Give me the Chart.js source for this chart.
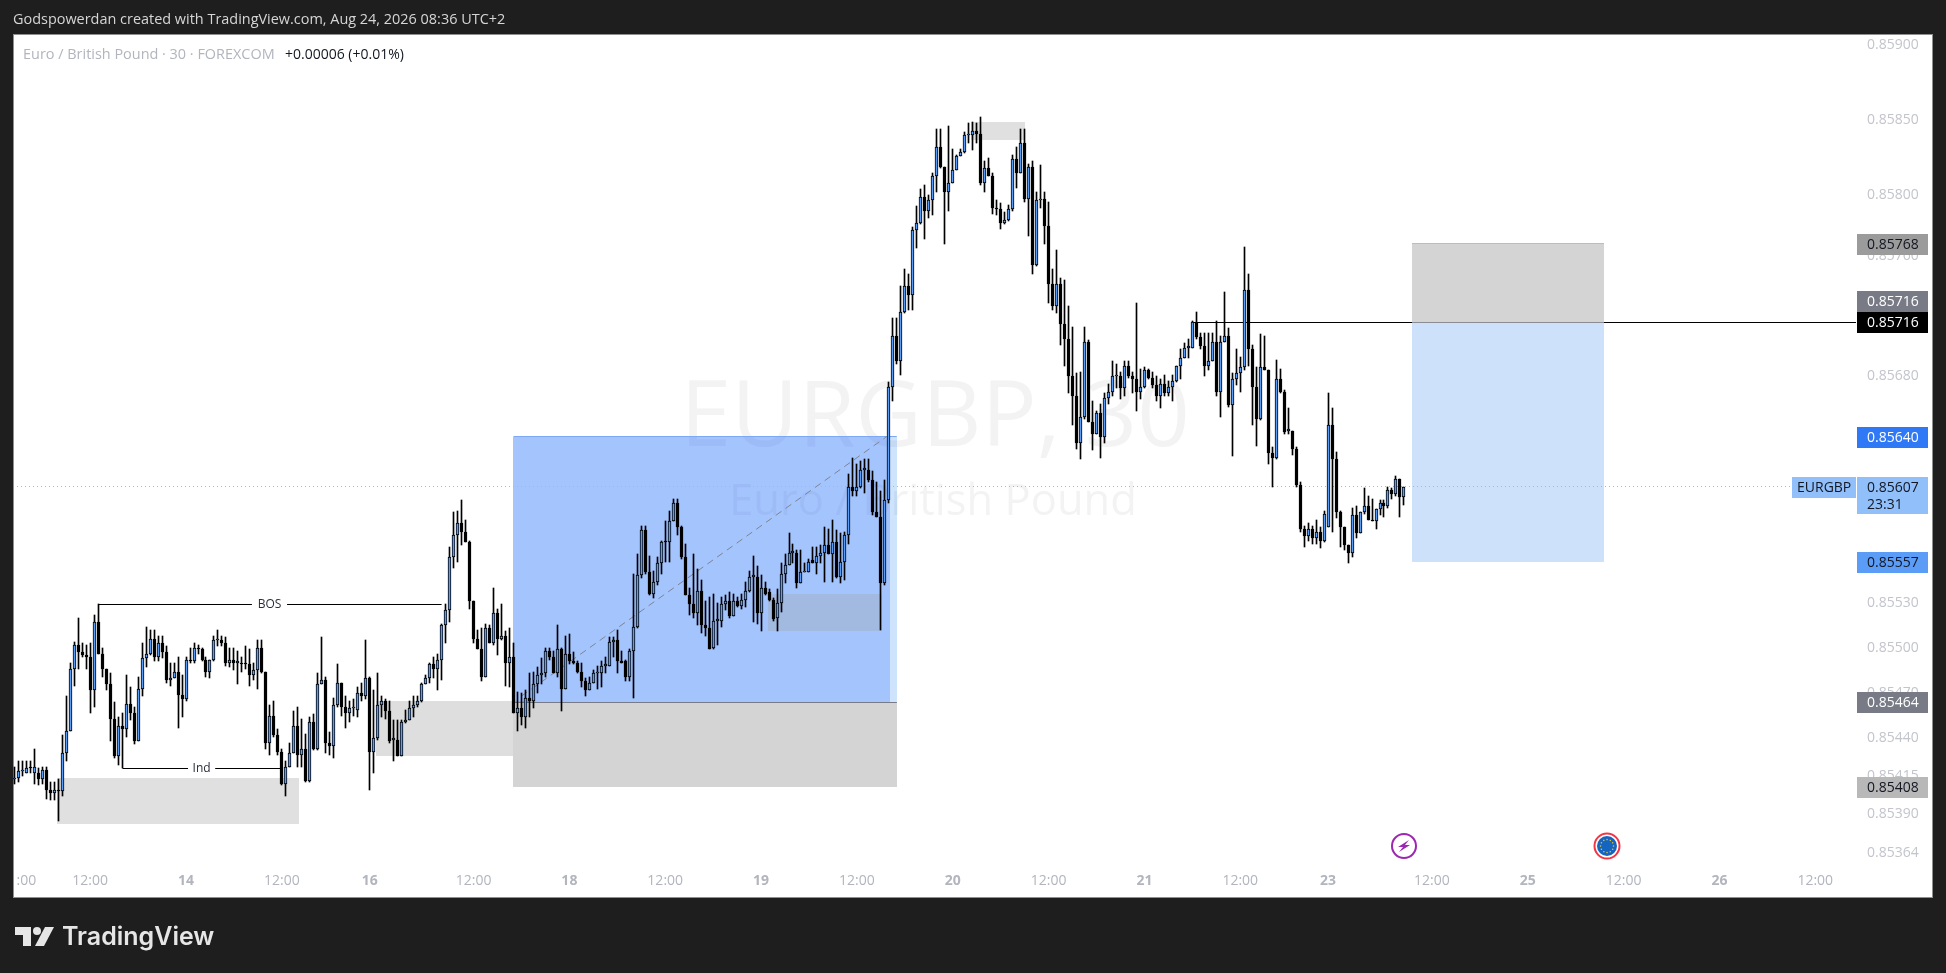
<!DOCTYPE html>
<html>
<head>
<meta charset="utf-8">
<title>EURGBP, 30</title>
<script src="https://cdn.jsdelivr.net/npm/chart.js@4/dist/chart.umd.js"></script>
<style>
  html, body { margin: 0; background: #1e1e1e; }
  canvas { display: block; }
</style>
</head>
<body>
<canvas id="chart" width="1946" height="973"></canvas>
<script>
// prices are kept in points, 85413 means 0.85413
const opens = [
  85413,85414,85418,85417,85421,85417,85417,85413,85419,85406,
  85404,85406,85405,85430,85445,85486,85502,85497,85495,85494,
  85472,85517,85496,85486,85476,85453,85428,85448,85446,85463,
  85457,85438,85473,85493,85496,85506,85494,85503,85497,85479,
  85480,85484,85469,85466,85492,85491,85500,85499,85492,85484,
  85492,85505,85505,85503,85490,85492,85490,85490,85490,85489,
  85482,85485,85500,85484,85437,85455,85442,85431,85410,85421,
  85430,85448,85429,85433,85412,85451,85433,85476,85479,85437,
  85435,85462,85477,85461,85457,85460,85459,85470,85468,85480,
  85431,85440,85462,85465,85458,85439,85439,85428,85451,85452,
  85460,85462,85465,85476,85480,85489,85486,85492,85515,85525,
  85560,85575,85583,85577,85570,85531,85506,85499,85481,85513,
  85503,85523,85506,85508,85490,85494,85457,85460,85454,85467,
  85465,85476,85482,85483,85498,85494,85483,85499,85473,85496,
  85491,85490,85484,85478,85472,85477,85483,85483,85488,85488,
  85504,85505,85491,85491,85481,85498,85514,85548,85578,85550,
  85536,85544,85556,85571,85570,85584,85596,85580,85560,85535,
  85529,85523,85538,85515,85513,85500,85518,85518,85529,85531,
  85521,85531,85528,85532,85538,85547,85547,85523,85540,85537,
  85532,85520,85530,85549,85555,85563,85563,85543,85550,85550,
  85558,85556,85561,85563,85568,85562,85570,85547,85557,85575,
  85607,85604,85607,85618,85618,85611,85590,85587,85543,85598,
  85673,85707,85690,85723,85740,85734,85777,85782,85799,85790,
  85797,85813,85832,85819,85802,85808,85817,85826,85829,85840,
  85840,85843,85841,85808,85818,85813,85792,85791,85782,85784,
  85791,85824,85815,85835,85798,85819,85754,85797,85798,85780,
  85741,85727,85741,85715,85705,85680,85667,85636,85653,85703,
  85650,85642,85656,85640,85666,85670,85680,85680,85672,85687,
  85680,85678,85670,85673,85684,85679,85674,85667,85675,85669,
  85673,85677,85687,85692,85699,85699,85716,85706,85700,85687,
  85690,85703,85670,85703,85707,85661,85678,85682,85686,85737,
  85698,85673,85652,85686,85684,85629,85626,85678,85670,85644,
  85644,85632,85608,85579,85574,85579,85573,85577,85571,85580,
  85648,85625,85590,85580,85568,85563,85588,85576,85590,85594,
  85585,85584,85592,85596,85594,85605,85602,85612,85600
];
const highs = [
  85421,85425,85425,85425,85425,85433,85420,85421,85421,85411,
  85411,85413,85442,85468,85490,85504,85520,85503,85502,85503,
  85522,85529,85500,85486,85483,85464,85454,85457,85482,85474,
  85461,85481,85503,85514,85512,85512,85508,85508,85501,85490,
  85490,85494,85482,85494,85500,85503,85502,85500,85494,85492,
  85508,85512,85508,85507,85500,85500,85498,85494,85501,85499,
  85490,85505,85505,85484,85462,85465,85446,85433,85425,85437,
  85458,85461,85453,85443,85454,85456,85483,85507,85481,85444,
  85467,85489,85477,85468,85465,85466,85474,85477,85505,85481,
  85472,85483,85468,85466,85465,85452,85452,85452,85459,85465,
  85468,85468,85477,85482,85490,85494,85496,85516,85529,85567,
  85590,85591,85598,85585,85571,85531,85512,85513,85516,85515,
  85540,85526,85529,85511,85513,85503,85471,85470,85472,85483,
  85484,85487,85493,85500,85500,85498,85515,85500,85508,85509,
  85497,85491,85490,85480,85481,85485,85488,85491,85494,85507,
  85507,85512,85498,85492,85499,85549,85562,85581,85581,85561,
  85551,85560,85571,85584,85591,85599,85599,85581,85569,85540,
  85562,85552,85545,85531,85534,85536,85530,85534,85535,85537,
  85536,85534,85536,85544,85551,85561,85554,85548,85544,85539,
  85533,85539,85556,85562,85576,85569,85565,85565,85556,85559,
  85567,85567,85568,85580,85579,85585,85578,85576,85577,85615,
  85626,85622,85624,85625,85625,85617,85610,85604,85611,85676,
  85719,85719,85740,85751,85748,85779,85793,85804,85807,85800,
  85815,85844,85844,85819,85846,85831,85827,85831,85842,85848,
  85849,85848,85852,85823,85825,85815,85797,85795,85789,85794,
  85827,85832,85844,85844,85821,85823,85802,85820,85802,85796,
  85751,85764,85745,85744,85727,85713,85682,85683,85713,85704,
  85664,85657,85662,85669,85675,85690,85688,85683,85690,85690,
  85683,85729,85685,85686,85685,85683,85680,85678,85681,85677,
  85681,85687,85698,85702,85705,85717,85723,85709,85709,85709,
  85709,85717,85707,85736,85712,85682,85698,85693,85766,85748,
  85701,85686,85708,85707,85684,85633,85691,85685,85671,85659,
  85644,85633,85610,85581,85583,85581,85585,85580,85591,85669,
  85659,85630,85591,85580,85568,85593,85594,85590,85606,85601,
  85599,85592,85598,85598,85607,85606,85614,85612,85607
];
const lows = [
  85410,85411,85415,85417,85417,85410,85409,85410,85400,85399,
  85399,85385,85402,85425,85445,85475,85486,85494,85486,85457,
  85461,85496,85481,85472,85438,85427,85422,85420,85441,85452,
  85436,85438,85468,85487,85495,85491,85491,85493,85477,85475,
  85480,85447,85454,85465,85490,85490,85496,85491,85481,85480,
  85491,85501,85501,85488,85487,85485,85476,85484,85486,85475,
  85479,85473,85483,85433,85429,85441,85429,85409,85402,85421,
  85430,85421,85421,85411,85411,85432,85432,85476,85430,85429,
  85427,85461,85455,85447,85451,85455,85454,85465,85466,85406,
  85417,85439,85454,85453,85437,85425,85428,85428,85450,85452,
  85454,85461,85464,85476,85477,85480,85472,85479,85503,85517,
  85553,85557,85568,85570,85526,85503,85499,85478,85481,85503,
  85502,85495,85505,85475,85474,85457,85445,85449,85447,85454,
  85460,85470,85476,85481,85492,85483,85481,85458,85473,85489,
  85489,85483,85474,85468,85472,85477,85473,85474,85483,85488,
  85494,85483,85490,85478,85478,85467,85513,85546,85549,85535,
  85533,85542,85549,85557,85557,85584,85575,85559,85535,85522,
  85520,85515,85510,85508,85499,85499,85502,85514,85525,85520,
  85521,85527,85526,85527,85537,85517,85516,85511,85535,85531,
  85518,85511,85524,85543,85555,85556,85540,85543,85550,85550,
  85556,85549,85556,85544,85562,85544,85546,85543,85545,85569,
  85601,85601,85606,85603,85610,85588,85587,85512,85542,85596,
  85664,85688,85681,85722,85724,85724,85765,85781,85771,85785,
  85787,85802,85818,85768,85790,85808,85817,85826,85828,85835,
  85830,85835,85807,85802,85813,85788,85787,85778,85781,85783,
  85790,85805,85815,85796,85773,85748,85753,85792,85768,85729,
  85724,85722,85701,85687,85669,85648,85632,85625,85652,85650,
  85631,85642,85626,85636,85662,85667,85672,85665,85667,85679,
  85669,85657,85665,85672,85678,85672,85664,85659,85667,85667,
  85664,85676,85678,85692,85692,85699,85705,85698,85680,85684,
  85690,85667,85653,85703,85660,85627,85674,85670,85684,85687,
  85648,85634,85651,85684,85622,85607,85625,85669,85642,85642,
  85628,85607,85577,85567,85571,85569,85569,85566,85570,85580,
  85577,85586,85567,85565,85556,85560,85573,85576,85589,85585,
  85584,85579,85588,85587,85593,85599,85601,85587,85595
];
const closes = [
  85414,85418,85419,85420,85420,85421,85413,85419,85406,85404,
  85406,85405,85430,85445,85486,85502,85497,85495,85494,85472,
  85517,85496,85486,85476,85453,85428,85448,85446,85463,85457,
  85438,85473,85493,85496,85506,85494,85503,85497,85479,85480,
  85484,85469,85466,85492,85491,85500,85499,85492,85484,85492,
  85505,85506,85503,85490,85492,85490,85491,85489,85489,85482,
  85485,85500,85484,85437,85455,85442,85431,85410,85421,85430,
  85448,85429,85433,85412,85451,85433,85476,85479,85437,85435,
  85462,85477,85461,85457,85460,85461,85470,85468,85480,85431,
  85440,85462,85465,85458,85438,85440,85428,85451,85452,85460,
  85462,85465,85476,85480,85489,85486,85492,85515,85525,85560,
  85575,85583,85577,85570,85531,85506,85499,85481,85513,85503,
  85523,85506,85508,85490,85494,85457,85460,85454,85467,85465,
  85476,85482,85483,85498,85494,85483,85499,85473,85496,85491,
  85490,85484,85478,85472,85477,85483,85484,85488,85489,85504,
  85505,85491,85490,85481,85498,85514,85548,85578,85550,85536,
  85544,85556,85570,85570,85584,85596,85580,85560,85535,85529,
  85523,85538,85515,85513,85499,85518,85519,85529,85531,85521,
  85531,85528,85532,85538,85547,85548,85523,85540,85536,85532,
  85519,85530,85549,85555,85563,85564,85543,85550,85551,85557,
  85556,85561,85563,85568,85562,85570,85547,85557,85575,85607,
  85604,85607,85618,85619,85611,85590,85587,85543,85598,85673,
  85707,85690,85723,85740,85734,85777,85782,85799,85790,85797,
  85813,85832,85819,85802,85808,85817,85826,85829,85840,85841,
  85843,85841,85808,85818,85813,85792,85791,85782,85784,85791,
  85824,85815,85835,85798,85819,85754,85797,85798,85780,85741,
  85727,85741,85715,85705,85680,85667,85636,85653,85703,85650,
  85642,85656,85640,85666,85670,85680,85681,85672,85687,85680,
  85678,85670,85673,85684,85679,85674,85667,85675,85669,85673,
  85677,85687,85692,85699,85700,85716,85706,85700,85687,85690,
  85703,85670,85703,85707,85661,85678,85682,85686,85737,85698,
  85673,85652,85686,85684,85629,85626,85678,85670,85643,85645,
  85632,85608,85579,85574,85579,85573,85577,85571,85589,85648,
  85625,85590,85580,85568,85563,85588,85576,85590,85594,85585,
  85584,85592,85596,85594,85605,85602,85612,85600,85607
];

const priceTicks = [85900,85850,85800,85760,85680,85530,85500,85470,85440,85415,85390,85364];
const timeTickBars = [3,19,43,67,89,115,139,163,187,211,235,259,283,307,329,355,379,403,427,451];
const timeTickLabels = [':00','12:00','14','12:00','16','12:00','18','12:00','19','12:00','20','12:00','21','12:00','23','12:00','25','12:00','26','12:00'];

// drawn boxes, in bars and points
const boxFrom =   [ 10.7,  90.6, 125,   125,   125,   188.8, 239.6, 350,   350];
const boxTo =     [ 71.3, 129.2, 221,   219.3, 221,   217.3, 253.1, 398.1, 398.1];
const boxTop =    [85414, 85465, 85640, 85640, 85464, 85536, 85849, 85768, 85716];
const boxBottom = [85383, 85428, 85464, 85464, 85408, 85511, 85837, 85716, 85557];

const currentPrice = 85607;
const tagPrices = [85768, 85716, 85716, 85640, 85607, 85557, 85464, 85408];
const tagLabels = ['0.85768','0.85716','0.85716','0.85640','0.85607','0.85557','0.85464','0.85408'];

const FONT = '"Open Sans", sans-serif';

function snap(v) { return Math.floor(v) + 0.5; }

function hline(ctx, chart, from, to, price, color) {
  const x = chart.scales.x, y = chart.scales.y;
  ctx.strokeStyle = color;
  ctx.lineWidth = 1;
  ctx.beginPath();
  ctx.moveTo(x.getPixelForValue(from), snap(y.getPixelForValue(price)));
  ctx.lineTo(x.getPixelForValue(to), snap(y.getPixelForValue(price)));
  ctx.stroke();
}

function drawLogo(ctx) {
  ctx.fillStyle = '#e6e6e6';
  ctx.beginPath();
  ctx.moveTo(15, 927); ctx.lineTo(31, 927); ctx.lineTo(31, 946); ctx.lineTo(23, 946);
  ctx.lineTo(23, 935); ctx.lineTo(15, 935); ctx.closePath(); ctx.fill();
  ctx.beginPath(); ctx.arc(37, 931, 4, 0, Math.PI * 2); ctx.fill();
  ctx.beginPath();
  ctx.moveTo(45, 927); ctx.lineTo(54, 927); ctx.lineTo(44, 946); ctx.lineTo(35, 946);
  ctx.closePath(); ctx.fill();
  ctx.font = '600 25px Inter, sans-serif';
  ctx.textAlign = 'left';
  ctx.textBaseline = 'alphabetic';
  ctx.fillText('TradingView', 62, 945);
}

function drawIcons(ctx) {
  // lightning mark
  ctx.strokeStyle = '#9c27b0';
  ctx.lineWidth = 2;
  ctx.beginPath(); ctx.arc(1404, 846, 12, 0, Math.PI * 2); ctx.stroke();
  ctx.fillStyle = '#9c27b0';
  ctx.beginPath();
  ctx.moveTo(1409, 840); ctx.lineTo(1398, 847); ctx.lineTo(1403, 847); ctx.lineTo(1399, 852);
  ctx.lineTo(1410, 845); ctx.lineTo(1405, 845); ctx.closePath(); ctx.fill();
  // EU flag mark
  ctx.strokeStyle = '#f23645';
  ctx.beginPath(); ctx.arc(1607, 846, 12.5, 0, Math.PI * 2); ctx.stroke();
  ctx.fillStyle = '#1565c0';
  ctx.beginPath(); ctx.arc(1607, 846, 10, 0, Math.PI * 2); ctx.fill();
  ctx.fillStyle = '#e0c53a';
  for (let k = 0; k < 12; k++) {
    const a = k * Math.PI / 6;
    ctx.fillRect(1607 + Math.cos(a) * 6.5 - 0.6, 846 + Math.sin(a) * 6.5 - 0.6, 1.3, 1.3);
  }
}

const drawings = {
  id: 'drawings',
  beforeDraw(chart) {
    const ctx = chart.ctx;
    ctx.save();
    ctx.fillStyle = '#1e1e1e';
    ctx.fillRect(0, 0, 1946, 973);
    ctx.fillStyle = '#ffffff';
    ctx.fillRect(13, 34, 1919, 863);
    ctx.strokeStyle = '#8f8f8f';
    ctx.lineWidth = 1;
    ctx.strokeRect(13.5, 34.5, 1919, 863);
    ctx.restore();
  },
  // candles get rounded to whole pixels so they stay sharp
  afterDatasetsUpdate(chart) {
    chart.getSortedVisibleDatasetMetas().forEach(meta => {
      meta.data.forEach(bar => {
        bar.x = snap(bar.x);
        const top = Math.round(bar.y);
        let base = Math.round(bar.base);
        if (base === top) base = top + 1;
        bar.y = top;
        bar.base = base;
      });
    });
  },
  beforeDatasetsDraw(chart) {
    const ctx = chart.ctx, x = chart.scales.x, y = chart.scales.y;
    const area = chart.chartArea;
    ctx.save();
    ctx.beginPath();
    ctx.rect(area.left + 1, area.top + 1, area.width - 1, area.height - 1);
    ctx.clip();

    // watermark
    ctx.fillStyle = 'rgba(120,123,134,0.09)';
    ctx.textAlign = 'center';
    ctx.textBaseline = 'middle';
    ctx.font = '92px ' + FONT;
    ctx.fillText('EURGBP, 30', 935, 420);
    ctx.font = '43.5px ' + FONT;
    ctx.fillText('Euro / British Pound', 933, 503);

    // level line, hidden behind the right position box
    hline(ctx, chart, 295, 461.2, 85716, '#000000');

    const fills = [
      'rgba(0,0,0,0.12)', 'rgba(0,0,0,0.13)', 'rgba(33,130,245,0.22)', 'rgba(41,98,255,0.25)',
      'rgb(212,212,212)', 'rgba(160,160,160,0.3)', 'rgba(0,0,0,0.12)',
      'rgb(212,212,212)', 'rgb(205,225,250)'
    ];
    boxFrom.forEach((from, k) => {
      const left = Math.round(x.getPixelForValue(from));
      const right = Math.round(x.getPixelForValue(boxTo[k]));
      const top = Math.round(y.getPixelForValue(boxTop[k]));
      const bottom = Math.round(y.getPixelForValue(boxBottom[k]));
      ctx.fillStyle = fills[k];
      ctx.fillRect(left, top, right - left, bottom - top);
    });

    // position borders
    hline(ctx, chart, 125, 221, 85464, '#787b86');
    hline(ctx, chart, 125, 221, 85640, '#7da8f5');
    hline(ctx, chart, 350, 398.1, 85716, '#8a8d96');
    hline(ctx, chart, 350, 398.1, 85768, '#bdbdbd');

    // dashed path inside the left position
    ctx.strokeStyle = '#7f8490';
    ctx.lineWidth = 1;
    ctx.setLineDash([7, 5]);
    ctx.beginPath();
    ctx.moveTo(x.getPixelForValue(127), y.getPixelForValue(85468));
    ctx.lineTo(x.getPixelForValue(218.4), y.getPixelForValue(85640));
    ctx.stroke();
    ctx.setLineDash([]);

    // BOS and Ind labels
    hline(ctx, chart, 21, 59.5, 85529, '#000000');
    hline(ctx, chart, 68.3, 107, 85529, '#000000');
    hline(ctx, chart, 27.1, 43.5, 85420, '#000000');
    hline(ctx, chart, 50.3, 67, 85420, '#000000');
    ctx.fillStyle = '#2a2e39';
    ctx.font = '12px ' + FONT;
    ctx.fillText('BOS', x.getPixelForValue(63.9), y.getPixelForValue(85529));
    ctx.fillText('Ind', x.getPixelForValue(46.9), y.getPixelForValue(85420));

    // current price
    ctx.strokeStyle = '#9ab8e8';
    ctx.setLineDash([1, 3]);
    ctx.beginPath();
    ctx.moveTo(area.left, snap(y.getPixelForValue(currentPrice)));
    ctx.lineTo(1792, snap(y.getPixelForValue(currentPrice)));
    ctx.stroke();
    ctx.restore();
  },
  afterDraw(chart) {
    const ctx = chart.ctx, y = chart.scales.y;
    ctx.save();

    // price tags
    const tagFill = ['#9b9b9b','#787b86','#000000','#2f79f6','#90bff9','#5b9cf6','#787b86','#b8b8b8'];
    const tagText = ['#131722','#ffffff','#ffffff','#ffffff','#131722','#131722','#ffffff','#131722'];
    const tagShift = [0, -21, 0, 0, 0, 0, 0, 0];
    ctx.font = '14px ' + FONT;
    ctx.textBaseline = 'middle';
    ctx.textAlign = 'left';
    tagPrices.forEach((p, k) => {
      const cy = Math.round(y.getPixelForValue(p)) + tagShift[k];
      ctx.fillStyle = tagFill[k];
      ctx.fillRect(1857, cy - 10, 71, k === 4 ? 37 : 21);
      ctx.fillStyle = tagText[k];
      ctx.fillText(tagLabels[k], 1867, cy + 1);
      if (k === 4) ctx.fillText('23:31', 1867, cy + 18);
    });
    const cy = Math.round(y.getPixelForValue(currentPrice));
    ctx.fillStyle = '#90bff9';
    ctx.fillRect(1792, cy - 10, 64, 21);
    ctx.fillStyle = '#131722';
    ctx.fillText('EURGBP', 1797, cy + 1);

    // header and legend
    ctx.font = '14.45px ' + FONT;
    ctx.fillStyle = '#d6d6d6';
    ctx.fillText('Godspowerdan created with TradingView.com, Aug 24, 2026 08:36 UTC+2', 13, 20);
    ctx.fillStyle = '#b2b5be';
    ctx.fillText('Euro / British Pound · 30 · FOREXCOM', 23, 55);
    ctx.font = '14px ' + FONT;
    ctx.fillStyle = '#131722';
    ctx.fillText('+0.00006 (+0.01%)', 285, 55);

    drawIcons(ctx);
    drawLogo(ctx);
    ctx.restore();
  }
};

new Chart(document.getElementById('chart'), {
  type: 'bar',
  data: {
    datasets: [
      {
        label: 'body',
        order: 1,
        grouped: false,
        barThickness: 3,
        borderWidth: 1,
        borderColor: '#000000',
        borderSkipped: false,
        backgroundColor: closes.map((c, i) => c > opens[i] ? '#5b9cf6' : '#000000'),
        data: closes.map((c, i) => ({ x: i, y: [opens[i], c] }))
      },
      {
        label: 'wick',
        order: 2,
        grouped: false,
        barThickness: 1,
        borderWidth: 0,
        backgroundColor: '#000000',
        data: highs.map((h, i) => ({ x: i, y: [lows[i], h] }))
      }
    ]
  },
  options: {
    responsive: false,
    animation: false,
    devicePixelRatio: 1,
    layout: { padding: { left: 13, top: 34, right: 14, bottom: 76 } },
    plugins: { legend: { display: false }, tooltip: { enabled: false }, title: { display: false } },
    scales: {
      x: {
        type: 'linear',
        offset: false,
        min: -0.33,
        max: 461.2,
        grid: { display: false, drawTicks: false },
        border: { display: false },
        afterFit(scale) { scale.height = 29; scale.paddingLeft = 0; scale.paddingRight = 0; },
        afterBuildTicks(scale) { scale.ticks = timeTickBars.map(v => ({ value: v })); },
        ticks: {
          autoSkip: false,
          maxRotation: 0,
          minRotation: 0,
          padding: 5,
          color: '#b2b5be',
          font: ctx => ({ family: FONT, size: 14, weight: ctx.index % 2 === 0 && ctx.index > 0 ? '700' : '400' }),
          callback: (value, index) => timeTickLabels[index]
        }
      },
      y: {
        position: 'right',
        min: 85354,
        max: 85907.1,
        grid: { display: false, drawTicks: false },
        border: { display: false },
        afterFit(scale) { scale.width = 76; scale.paddingTop = 0; scale.paddingBottom = 0; },
        afterBuildTicks(scale) { scale.ticks = priceTicks.map(v => ({ value: v })); },
        ticks: {
          autoSkip: false,
          padding: 11,
          color: '#c3c5cc',
          font: { family: FONT, size: 14 },
          callback: value => (value / 100000).toFixed(5)
        }
      }
    }
  },
  plugins: [drawings]
});
</script>
</body>
</html>
